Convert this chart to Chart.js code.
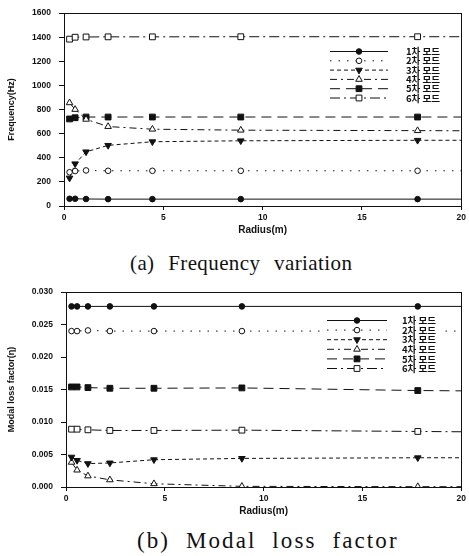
<!DOCTYPE html>
<html><head><meta charset="utf-8">
<script src="https://cdn.jsdelivr.net/npm/chart.js@4.4.1/dist/chart.umd.min.js"></script>
<style>
html,body{margin:0;padding:0;background:#fff}
body{width:469px;height:556px;position:relative;overflow:hidden}
.box{position:absolute;left:0;width:469px}
#c1box{top:0;height:240px}
#c2box{top:279px;height:242px}
.cap{position:absolute;white-space:nowrap;font-family:"Liberation Serif","DejaVu Serif",serif;color:#111;line-height:1}
#capA{top:253px;left:130px;font-size:21px;word-spacing:8px;letter-spacing:0.4px}
#capB{top:529px;left:137px;font-size:23px;word-spacing:8px;letter-spacing:2.1px}
</style></head><body>
<div class="box" id="c1box"><canvas id="c1"></canvas></div>
<div class="cap" id="capA">(a) Frequency variation</div>
<div class="box" id="c2box"><canvas id="c2"></canvas></div>
<div class="cap" id="capB">(b) Modal loss factor</div>
<script>
// ---- data ----
// last radius (20) is where the curves meet the right frame; no marker is drawn there
const radius = [0.28, 0.56, 1.11, 2.22, 4.45, 8.9, 17.8, 20];
const modeLabels = ['1차 모드', '2차 모드', '3차 모드', '4차 모드', '5차 모드', '6차 모드'];

const freq1 = [60, 60, 58, 57, 57, 57, 57, 57];
const freq2 = [280, 290, 295, 292, 292, 292, 292, 292];
const freq3 = [232, 350, 449, 503, 533, 541, 545, 545];
const freq4 = [856, 801, 719, 659, 637, 629, 625, 624];
const freq5 = [722, 732, 738, 738, 738, 738, 738, 738];
const freq6 = [1384, 1400, 1402, 1403, 1403, 1404, 1404, 1404];

const loss1 = [0.0278, 0.0278, 0.0278, 0.0278, 0.0278, 0.0278, 0.0278, 0.0278];
const loss2 = [0.0240, 0.0240, 0.0241, 0.0240, 0.0240, 0.0240, 0.0240, 0.0240];
const loss3 = [0.0046, 0.0041, 0.0036, 0.0037, 0.0042, 0.0044, 0.0045, 0.0045];
const loss4 = [0.0038, 0.0026, 0.0017, 0.0011, 0.0005, 0.0001, 0.00005, 0.00005];
const loss5 = [0.0154, 0.0154, 0.0153, 0.0152, 0.0152, 0.01525, 0.01485, 0.0148];
const loss6 = [0.0089, 0.0089, 0.0088, 0.0087, 0.0087, 0.00875, 0.00855, 0.0085];

const xTicks = [0, 5, 10, 15, 20];
const freqTicks = [0, 200, 400, 600, 800, 1000, 1200, 1400, 1600];
const lossTicks = [0, 0.005, 0.010, 0.015, 0.020, 0.025, 0.030];

// ---- styles ----
const INK = '#111';
const styles = [
  {dash: [], point: 'circle', fill: true, r: 2.8, rot: 0},
  {dash: [1.5, 7], point: 'circle', fill: false, r: 2.8, rot: 0},
  {dash: [4, 3], point: 'triangle', fill: true, r: 3.8, rot: 180},
  {dash: [7, 4, 2, 4], point: 'triangle', fill: false, r: 3.8, rot: 0},
  {dash: [10, 6], point: 'rect', fill: true, r: 4.1, rot: 0},
  {dash: [10, 4, 2, 4], point: 'rect', fill: false, r: 4.1, rot: 0}
];

function makeDatasets(series) {
  return series.map((arr, i) => ({
    label: modeLabels[i],
    data: radius.map((r, k) => ({x: r, y: arr[k]})),
    borderColor: INK,
    borderWidth: 1,
    borderDash: styles[i].dash,
    pointStyle: styles[i].point,
    pointRotation: styles[i].rot,
    pointRadius: radius.map((r, k) => k === radius.length - 1 ? 0 : styles[i].r),
    pointBorderWidth: 1,
    pointBorderColor: INK,
    pointBackgroundColor: styles[i].fill ? INK : '#fff',
    fill: false,
    tension: 0
  }));
}

function drawMarker(ctx, st, x, y) {
  ctx.save();
  ctx.setLineDash([]);
  ctx.lineWidth = 1;
  ctx.strokeStyle = INK;
  ctx.fillStyle = st.fill ? INK : '#fff';
  ctx.beginPath();
  const r = st.r;
  if (st.point === 'circle') {
    ctx.arc(x, y, r, 0, Math.PI * 2);
  } else if (st.point === 'rect') {
    const s = r * Math.SQRT1_2;
    ctx.rect(x - s, y - s, 2 * s, 2 * s);
  } else {
    let rad = st.rot * Math.PI / 180;
    for (let k = 0; k < 3; k++) {
      const px = x + Math.sin(rad) * r, py = y - Math.cos(rad) * r;
      if (k === 0) ctx.moveTo(px, py); else ctx.lineTo(px, py);
      rad += 2 * Math.PI / 3;
    }
    ctx.closePath();
  }
  ctx.fill();
  ctx.stroke();
  ctx.restore();
}

const framePlugin = {
  id: 'frame',
  beforeDatasetsDraw(chart) {
    const a = chart.chartArea, ctx = chart.ctx;
    ctx.save();
    ctx.strokeStyle = INK;
    ctx.lineWidth = 1;
    ctx.strokeRect(Math.round(a.left) + 0.5, Math.round(a.top) + 0.5,
      Math.round(a.right - a.left), Math.round(a.bottom - a.top));
    ctx.restore();
  }
};

const legendPlugin = {
  id: 'lineLegend',
  afterDatasetsDraw(chart, args, opts) {
    const ctx = chart.ctx;
    const {x0, x1, tx, y0, dy} = opts;
    ctx.save();
    ctx.fillStyle = '#fff';
    ctx.fillRect(x0 - 3, y0 - 6, tx + 44 - x0, dy * 5 + 12);
    chart.data.datasets.forEach((ds, i) => {
      const y = y0 + i * dy;
      ctx.save();
      ctx.strokeStyle = INK;
      ctx.lineWidth = 1;
      ctx.setLineDash(styles[i].dash);
      ctx.beginPath();
      ctx.moveTo(x0, y + 0.5);
      ctx.lineTo(x1, y + 0.5);
      ctx.stroke();
      ctx.restore();
      drawMarker(ctx, styles[i], (x0 + x1) / 2, y + 0.5);
      ctx.fillStyle = INK;
      ctx.font = 'bold 9.5px "Noto Sans CJK KR", "Noto Sans", sans-serif';
      ctx.textBaseline = 'middle';
      ctx.textAlign = 'left';
      ctx.fillText(ds.label, tx, y + 0.5);
    });
    ctx.restore();
  }
};

function makeChart(id, series, yMin, yMax, yTitle, yTickFmt, yWidth, padTop, padRight, xHeight, legendOpts) {
  return new Chart(document.getElementById(id), {
    type: 'line',
    data: {datasets: makeDatasets(series)},
    plugins: [framePlugin, legendPlugin],
    options: {
      responsive: true,
      maintainAspectRatio: false,
      animation: false,
      layout: {padding: {top: padTop, right: padRight, left: 0, bottom: 0}},
      plugins: {
        legend: {display: false},
        tooltip: {enabled: false},
        lineLegend: legendOpts
      },
      scales: {
        x: {
          type: 'linear', min: xTicks[0], max: xTicks[xTicks.length - 1],
          afterBuildTicks: s => { s.ticks = xTicks.map(v => ({value: v})); },
          afterFit: s => { s.height = xHeight; },
          ticks: {color: INK, padding: 3, maxRotation: 0,
            font: {family: '"Liberation Sans", Arial, sans-serif', size: 8.5, weight: 'bold'}},
          grid: {drawOnChartArea: false, tickLength: 4, color: INK},
          border: {color: INK, width: 1},
          title: {display: true, text: 'Radius(m)', color: INK, padding: {top: 0, bottom: 4},
            font: {family: '"Liberation Sans", Arial, sans-serif', size: 10, weight: 'bold'}}
        },
        y: {
          min: yMin, max: yMax,
          afterBuildTicks: s => { s.ticks = (yMax > 1 ? freqTicks : lossTicks).map(v => ({value: v})); },
          afterFit: s => { s.width = yWidth; },
          ticks: {color: INK, padding: 8, callback: yTickFmt,
            font: {family: '"Liberation Sans", Arial, sans-serif', size: 8.5, weight: 'bold'}},
          grid: {drawOnChartArea: false, tickLength: 5, color: INK},
          border: {color: INK, width: 1},
          title: {display: true, text: yTitle, color: INK, padding: {top: 6, bottom: 6},
            font: {family: '"Liberation Sans", Arial, sans-serif', size: 9, weight: 'bold'}}
        }
      }
    }
  });
}

makeChart('c1', [freq1, freq2, freq3, freq4, freq5, freq6], 0, 1600,
  'Frequency(Hz)', v => String(v), 64, 11, 6, 34,
  {x0: 330, x1: 388, tx: 406, y0: 51, dy: 9.3});

makeChart('c2', [loss1, loss2, loss3, loss4, loss5, loss6], 0, 0.03,
  'Modal loss factor(η)', v => v.toFixed(3), 66, 11, 7, 34,
  {x0: 327, x1: 387, tx: 402, y0: 41, dy: 9.6});
</script>
</body></html>
